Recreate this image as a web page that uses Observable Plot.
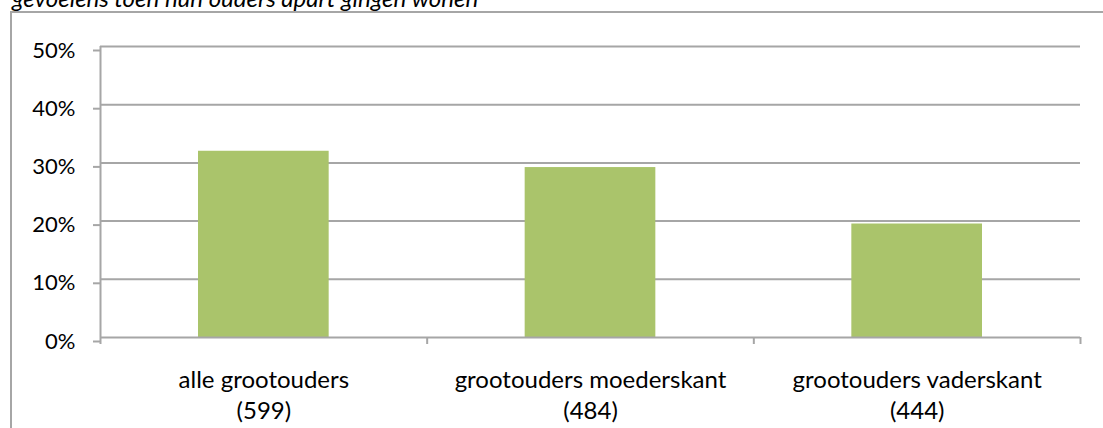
<!DOCTYPE html>
<html><head><meta charset="utf-8">
<script src="https://cdn.jsdelivr.net/npm/d3@7"></script>
<script src="https://cdn.jsdelivr.net/npm/@observablehq/plot@0.6"></script>
<style>
html,body{margin:0;padding:0;overflow:hidden;background:#fff;width:1103px;height:428px;}
#title{position:absolute;left:12px;top:-14px;font-family:Lato;font-style:italic;font-size:24px;line-height:24px;white-space:nowrap;color:#000}
#frame{position:absolute;left:10px;top:11px;width:1200px;height:600px;border-left:2px solid #a6a6a6;border-top:2px solid #a6a6a6}
#chart{position:absolute;left:0;top:0}
</style></head><body>
<div id="frame"></div>
<div id="title">gevoelens toen hun ouders apart gingen wonen</div>
<div id="chart"></div>
<script>
const categories = ["alle grootouders", "grootouders moederskant", "grootouders vaderskant"];
const counts = [599, 484, 444];
const values = [0.32, 0.292, 0.195];
const yTicks = [0, 0.1, 0.2, 0.3, 0.4, 0.5];
const catBounds = [0, 1, 2, 3];
const catCenters = [0.5, 1.5, 2.5];

const rows = categories.map((c, i) => ({i, category: c, value: values[i]}));
const gray = "#a6a6a6";

const plot = Plot.plot({
  width: 1103, height: 428,
  marginLeft: 100, marginRight: 23, marginTop: 46, marginBottom: 91,
  style: {fontFamily: "Lato", background: "transparent", color: "#000"},
  x: {type: "linear", domain: [0, 3], label: null},
  y: {domain: [0, 0.5], label: null},
  marks: [
    Plot.gridY(yTicks.slice(1), {stroke: gray, strokeOpacity: 1, strokeWidth: 2}),
    Plot.rectY(rows, {x1: d => d.i + 0.3, x2: d => d.i + 0.7, y1: 0, y2: "value", fill: "#aac46b"}),
    Plot.ruleY([0], {stroke: gray, strokeWidth: 2}),
    Plot.ruleX([0], {y1: 0, y2: 0.5, stroke: gray, strokeWidth: 2}),
    Plot.axisY(yTicks, {tickSize: 7, tickPadding: 18, tickFormat: d3.format(".0%"), fontSize: 22, dy: 4, stroke: gray, strokeWidth: 2, fill: "#000"}),
    Plot.axisX(catBounds, {tickSize: 7, tickFormat: () => "", stroke: gray, strokeWidth: 2}),
    Plot.axisX(catCenters, {tickSize: 0, tickPadding: 28, fontSize: 24, lineHeight: 1.3, fill: "#000",
      tickFormat: d => categories[Math.floor(d)] + "\n(" + counts[Math.floor(d)] + ")"})
  ]
});
document.getElementById("chart").appendChild(plot);
</script>
</body></html>
